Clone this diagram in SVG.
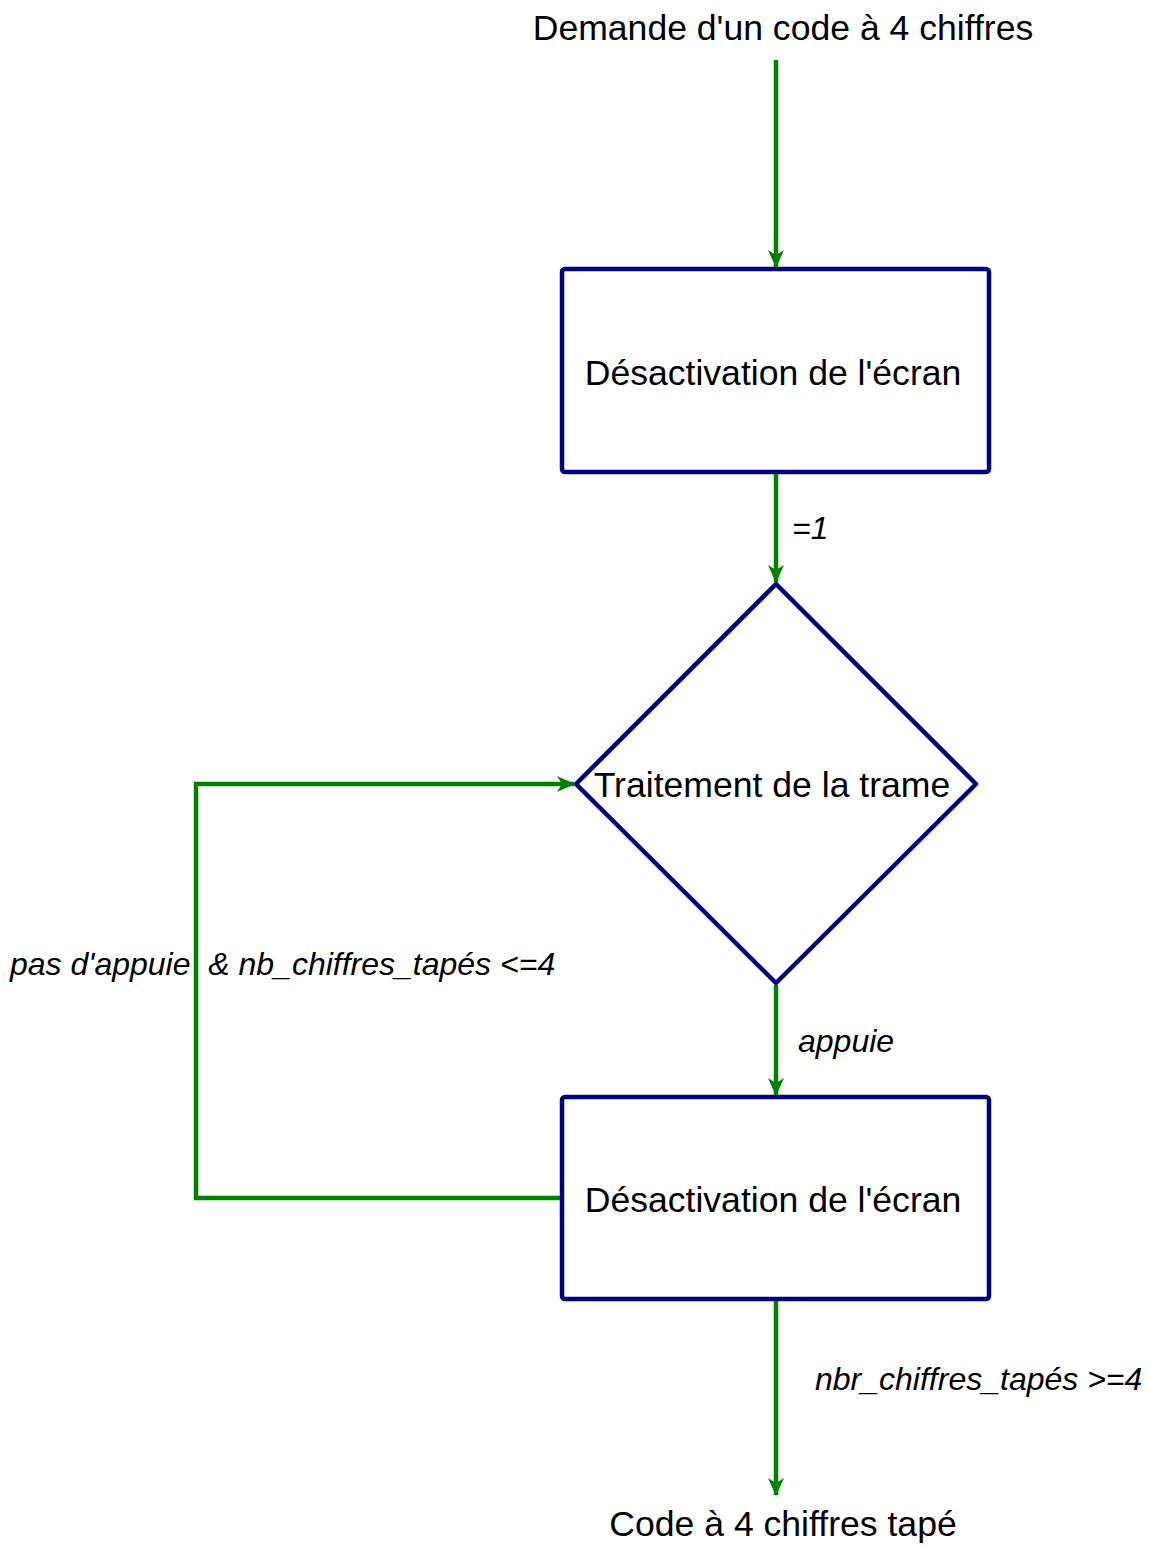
<svg xmlns="http://www.w3.org/2000/svg" width="1149" height="1546" viewBox="0 0 1149 1546">
<style>
.node{fill:#fff;stroke:#000080;stroke-width:4.5;stroke-linejoin:round}
.t{font-family:"Liberation Sans",Arial,sans-serif;font-size:35.6px;fill:#000;text-anchor:middle}
.lbl{font-family:"Liberation Sans",Arial,sans-serif;font-size:32px;font-style:italic;fill:#000}
.edge{fill:none;stroke:#008000;stroke-width:4.5}
</style>
<defs>
<marker id="ah" viewBox="0 0 18 16" refX="17" refY="8" markerWidth="18" markerHeight="16" markerUnits="userSpaceOnUse" orient="auto">
<path d="M0,0 L18,8 L0,16 L5,8 Z" fill="#008000"/>
</marker>
</defs>
<g id="start"><text class="t" x="783" y="40">Demande d'un code à 4 chiffres</text></g>
<g id="box1"><rect class="node" x="562" y="269" width="427" height="203" rx="3"/><text class="t" x="773" y="385">Désactivation de l'écran</text></g>
<g id="diamond"><polygon class="node" points="776,584 976,784 776,983 576,784"/><text class="t" x="772" y="797">Traitement de la trame</text></g>
<g id="box2"><rect class="node" x="562" y="1097" width="427" height="202" rx="3"/><text class="t" x="773" y="1212">Désactivation de l'écran</text></g>
<g id="end"><text class="t" x="783" y="1536">Code à 4 chiffres tapé</text></g>
<g id="connectors">
<line class="edge" x1="776" y1="60" x2="776" y2="267" marker-end="url(#ah)"/>
<line class="edge" x1="776" y1="474" x2="776" y2="582" marker-end="url(#ah)"/>
<text class="lbl" x="792" y="539">=1</text>
<line class="edge" x1="776" y1="985" x2="776" y2="1095" marker-end="url(#ah)"/>
<text class="lbl" x="798" y="1052">appuie</text>
<polyline class="edge" points="560,1198 196,1198 196,784 574,784" marker-end="url(#ah)"/>
<text class="lbl" x="10" y="975" xml:space="preserve">pas d'appuie  &amp; nb_chiffres_tapés &lt;=4</text>
<line class="edge" x1="776" y1="1301" x2="776" y2="1495" marker-end="url(#ah)"/>
<text class="lbl" x="815" y="1390">nbr_chiffres_tapés &gt;=4</text>
</g>
</svg>
